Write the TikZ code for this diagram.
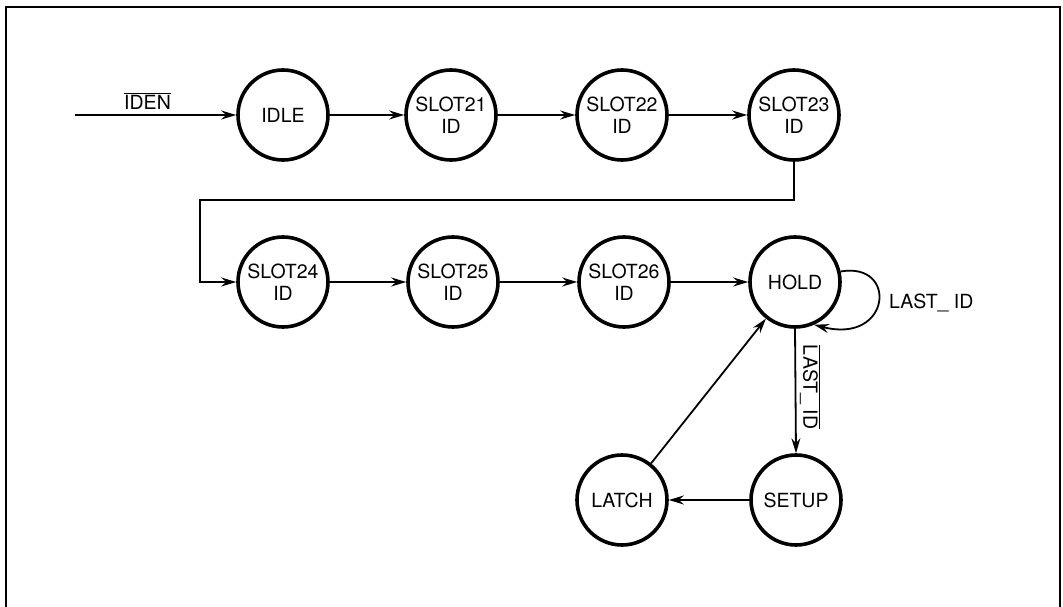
\documentclass[tikz,border=0pt]{standalone}
\usepackage{fontspec}
\setmainfont{TeX Gyre Heros}
\usetikzlibrary{arrows.meta}
\begin{document}
\begin{tikzpicture}[x=1pt,y=-1pt,
  state/.style={circle,draw,line width=3.6pt,minimum size=90pt,inner sep=0pt,align=center,font=\fontsize{19.5}{22}\selectfont},
  arr/.style={line width=1.8pt,-{Stealth[length=15pt,width=9pt,inset=5pt]}},
  lbl/.style={font=\fontsize{19.5}{22}\selectfont,inner sep=0pt}]
\clip (0,0) rectangle (1063,607);
\useasboundingbox (0,0) rectangle (1063,607);
\draw[line width=2pt] (6,7) rectangle (1060,640);
\node[state] (idle) at (283,115) {IDLE};
\node[state] (s21) at (451,115) {SLOT21\\ID};
\node[state] (s22) at (622,115) {SLOT22\\ID};
\node[state] (s23) at (794,115) {SLOT23\\ID};
\node[state] (s24) at (283,282) {SLOT24\\ID};
\node[state] (s25) at (453,282) {SLOT25\\ID};
\node[state] (s26) at (624,282) {SLOT26\\ID};
\node[state] (hold) at (795,282) {HOLD};
\node[state] (setup) at (796,500) {SETUP};
\node[state] (latch) at (622,500) {LATCH};
\coordinate (in) at (75,115);
\coordinate (b1) at (200,200);
\draw[arr] (in) -- node[lbl,above=5pt,pos=0.45] (iden) {$\overline{\mbox{IDEN}}$} (idle);
\draw[arr] (idle) -- (s21);
\draw[arr] (s21) -- (s22);
\draw[arr] (s22) -- (s23);
\draw[arr] (s23.south) |- (b1) |- (s24.west);
\draw[arr] (s24) -- (s25);
\draw[arr] (s25) -- (s26);
\draw[arr] (s26) -- (hold);
\draw[arr] (hold.13) .. controls +(58,-10) and +(77,20) .. (hold.-66);
\node[lbl,anchor=west] (lastid) at (889,303) {LAST\_ ID};
\draw[arr] (hold.south) -- (setup.north);
\node[lbl,rotate=-90] (nlastid) at (810,387) {$\overline{\mbox{LAST\_ ID}}$};
\draw[arr] (setup) -- (latch);
\draw[arr] (latch) -- (hold);
\end{tikzpicture}
\end{document}
